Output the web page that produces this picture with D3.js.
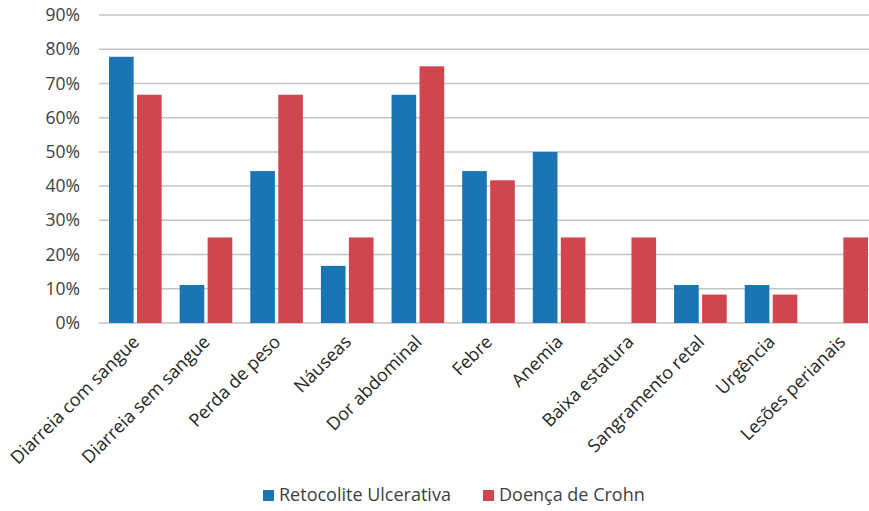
<!DOCTYPE html>
<html>
<head>
<meta charset="utf-8">
<script src="https://cdn.jsdelivr.net/npm/d3@7"></script>
<style>
  body { margin: 0; background: #fff; }
  svg { display: block; font-family: "Open Sans", sans-serif; }
</style>
</head>
<body>
<div id="chart"></div>
<script>
// symptom frequency per disease (fraction of patients)
const categories = ["Diarreia com sangue", "Diarreia sem sangue", "Perda de peso", "Náuseas",
    "Dor abdominal", "Febre", "Anemia", "Baixa estatura", "Sangramento retal", "Urgência", "Lesões perianais"];
const seriesNames = ["Retocolite Ulcerativa", "Doença de Crohn"];
const retocolite = [0.778, 0.111, 0.444, 0.167, 0.667, 0.444, 0.5, 0, 0.111, 0.111, 0];
const crohn = [0.667, 0.25, 0.667, 0.25, 0.75, 0.417, 0.25, 0.25, 0.083, 0.083, 0.25];
const yTicks = [0, 0.1, 0.2, 0.3, 0.4, 0.5, 0.6, 0.7, 0.8, 0.9];
const colors = ["#1b75b5", "#d1454f"];

const width = 869, height = 511;
const margin = { top: 15, right: -7, bottom: 188, left: 99 };
const innerW = width - margin.left - margin.right;
const innerH = height - margin.top - margin.bottom;

const svg = d3.select("#chart").append("svg")
    .attr("width", width)
    .attr("height", height);

const g = svg.append("g")
    .attr("transform", "translate(" + margin.left + "," + margin.top + ")");

const x = d3.scaleBand().domain(categories).range([0, innerW]);
const x1 = d3.scaleBand().domain(seriesNames).range([10, x.bandwidth() - 8]).paddingInner(0.12);
const y = d3.scaleLinear().domain([0, 0.9]).range([innerH, 0]);

// gridlines
g.selectAll(".grid")
    .data(yTicks)
    .enter().append("line")
    .attr("x1", 0)
    .attr("x2", innerW)
    .attr("y1", d => y(d))
    .attr("y2", d => y(d))
    .attr("stroke", "#c4c4c4")
    .attr("stroke-width", 1.5);

// y labels
g.selectAll(".ylab")
    .data(yTicks)
    .enter().append("text")
    .attr("x", -19)
    .attr("y", d => y(d))
    .attr("dy", "0.35em")
    .attr("text-anchor", "end")
    .attr("fill", "#404040")
    .style("font-size", "17.5px")
    .text(d3.format(".0%"));

const series = [retocolite, crohn];
const groups = g.selectAll(".grp")
    .data(categories)
    .enter().append("g")
    .attr("transform", d => "translate(" + x(d) + ",0)");

groups.selectAll("rect")
    .data((d, i) => series.map((s, k) => ({ name: seriesNames[k], value: s[i], k: k })))
    .enter().append("rect")
    .filter(d => d.value > 0)
    .attr("x", d => x1(d.name))
    .attr("width", x1.bandwidth())
    .attr("y", d => y(d.value))
    .attr("height", d => innerH - y(d.value))
    .attr("fill", d => colors[d.k]);

// category labels
g.selectAll(".xlab")
    .data(categories)
    .enter().append("text")
    .attr("transform", d => "translate(" + (x(d) + x.bandwidth() / 2 + 6) + "," + (innerH + 20) + ") rotate(-45)")
    .attr("text-anchor", "end")
    .attr("fill", "#262626")
    .style("font-size", "18px")
    .text(d => d);

// legend
const legend = svg.append("g");
const legendX = [263, 483];
seriesNames.forEach((name, k) => {
    legend.append("rect")
        .attr("x", legendX[k])
        .attr("y", 490)
        .attr("width", 11)
        .attr("height", 11)
        .attr("fill", colors[k]);
    legend.append("text")
        .attr("x", legendX[k] + 16)
        .attr("y", 501)
        .attr("fill", "#404040")
        .style("font-size", "18px")
        .text(name);
});
</script>
</body>
</html>
